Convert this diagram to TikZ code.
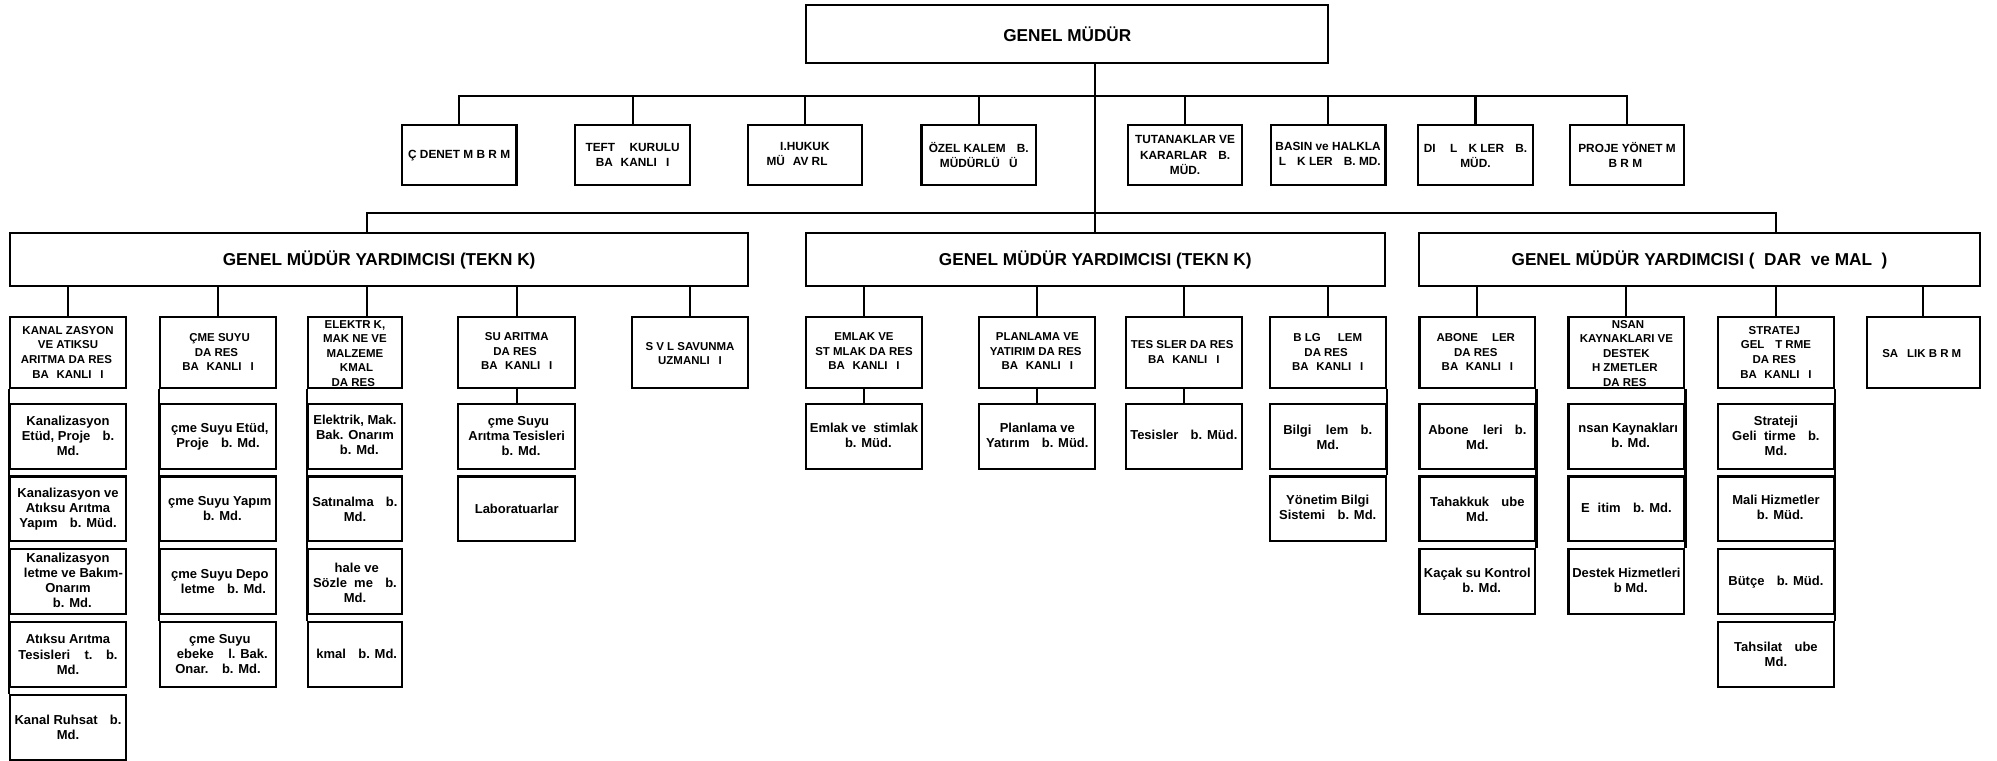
\documentclass[tikz,border=0pt]{standalone}
\usepackage{fontspec}
\setmainfont{Liberation Sans}
\newcommand{\miss}[1]{\phantom{#1}}
\tikzset{
  unitbox/.style={draw, line width=1.7pt, inner sep=0pt, align=center, minimum width=91pt},
  chiefbox/.style={unitbox, minimum height=41.5pt, font=\bfseries\fontsize{13.5}{16}\selectfont},
  staffbox/.style={unitbox, minimum width=90pt, minimum height=46.5pt, font=\bfseries\fontsize{9.3}{12}\selectfont},
  headbox/.style={unitbox, minimum height=56.3pt, font=\bfseries\fontsize{9}{11.4}\selectfont},
  subbox/.style={unitbox, minimum height=51pt, font=\bfseries\fontsize{10.2}{11.8}\selectfont}
}
\begin{document}
\begin{tikzpicture}[x=1pt,y=-1pt,line width=1.7pt]
  \useasboundingbox (0,0) rectangle (1568,597);
  % top
  \node[chiefbox, minimum width=410pt, minimum height=45pt] (gm) at (838,26.7) {GENEL MÜDÜR};
  \coordinate (busS) at (0,75.4);
  \coordinate (busG) at (0,167.5);
  \coordinate (jA) at (288,0);
  % staff units
  \node[staffbox] (s1) at (360.5,121.7) {\miss{İ}Ç DENET\miss{İ}M B\miss{İ}R\miss{İ}M\miss{İ}};
  \node[staffbox] (s2) at (496.7,121.7) {TEFT\miss{İŞ} KURULU\\BA\miss{Ş}KANLI\miss{Ğ}I};
  \node[staffbox] (s3) at (632,121.7) {I.HUKUK\\MÜ\miss{Ş}AV\miss{İ}RL\miss{İĞİ}};
  \node[staffbox] (s4) at (768.5,121.7) {ÖZEL KALEM \miss{Ş}B.\\MÜDÜRLÜ\miss{Ğ}Ü};
  \node[staffbox] (s5) at (930.5,121.7) {TUTANAKLAR VE\\KARARLAR \miss{Ş}B.\\MÜD.};
  \node[staffbox] (s6) at (1042.8,121.7) {BASIN ve HALKLA\\\miss{İ}L\miss{İŞ}K\miss{İ}LER \miss{Ş}B. MD.};
  \node[staffbox] (s7) at (1158.5,121.7) {DI\miss{Ş} \miss{İ}L\miss{İŞ}K\miss{İ}LER \miss{Ş}B.\\MÜD.};
  \node[staffbox] (s8) at (1277.5,121.7) {PROJE YÖNET\miss{İ}M\\B\miss{İ}R\miss{İ}M\miss{İ}};
  % deputies
  \node[chiefbox, minimum width=579.5pt] (gmyA) at (297.7,204) {GENEL MÜDÜR YARDIMCISI (TEKN\miss{İ}K)};
  \node[chiefbox, minimum width=454.6pt] (gmyB) at (860,204) {GENEL MÜDÜR YARDIMCISI (TEKN\miss{İ}K)};
  \node[chiefbox, minimum width=440pt] (gmyC) at (1334.4,204) {GENEL MÜDÜR YARDIMCISI ( \miss{İ}DAR\miss{İ}  ve MAL\miss{İ} )};
  % departments, technical (1)
  \node[headbox] (kaH) at (53.4,276.8) {KANAL\miss{İ}ZASYON\\VE ATIKSU\\ARITMA DA\miss{İ}RES\miss{İ}\\BA\miss{Ş}KANLI\miss{Ğ}I};
  \node[headbox] (icH) at (171.2,276.8) {\miss{İ}ÇME SUYU\\DA\miss{İ}RES\miss{İ}\\BA\miss{Ş}KANLI\miss{Ğ}I};
  \node[headbox, minimum width=73.3pt] (elH) at (278.7,276.8) {ELEKTR\miss{İ}K,\\MAK\miss{İ}NE VE\\MALZEME\\\miss{İ}KMAL\\DA\miss{İ}RES\miss{İ}};
  \node[headbox, minimum width=91.6pt] (suH) at (405.7,276.8) {SU ARITMA\\DA\miss{İ}RES\miss{İ}\\BA\miss{Ş}KANLI\miss{Ğ}I};
  \node[headbox, minimum width=91.6pt] (svH) at (541.8,276.8) {S\miss{İ}V\miss{İ}L SAVUNMA\\UZMANLI\miss{Ğ}I};
  % departments, technical (2)
  \node[headbox] (emH) at (678.4,276.8) {EMLAK VE\\\miss{İ}ST\miss{İ}MLAK DA\miss{İ}RES\miss{İ}\\BA\miss{Ş}KANLI\miss{Ğ}I};
  \node[headbox] (plH) at (814.5,276.8) {PLANLAMA VE\\YATIRIM DA\miss{İ}RES\miss{İ}\\BA\miss{Ş}KANLI\miss{Ğ}I};
  \node[headbox] (teH) at (929.5,276.8) {TES\miss{İ}SLER DA\miss{İ}RES\miss{İ}\\BA\miss{Ş}KANLI\miss{Ğ}I};
  \node[headbox] (biH) at (1042.5,276.8) {B\miss{İ}LG\miss{İ} \miss{İŞ}LEM\\DA\miss{İ}RES\miss{İ}\\BA\miss{Ş}KANLI\miss{Ğ}I};
  % departments, admin and finance
  \node[headbox] (abH) at (1160,276.8) {ABONE \miss{İŞ}LER\miss{İ}\\DA\miss{İ}RES\miss{İ}\\BA\miss{Ş}KANLI\miss{Ğ}I};
  \node[headbox] (inH) at (1277,276.8) {\miss{İ}NSAN\\KAYNAKLARI VE\\DESTEK\\H\miss{İ}ZMETLER\miss{İ}\\DA\miss{İ}RES\miss{İ}};
  \node[headbox] (stH) at (1394.4,276.8) {STRATEJ\miss{İ}\\GEL\miss{İŞ}T\miss{İ}RME\\DA\miss{İ}RES\miss{İ}\\BA\miss{Ş}KANLI\miss{Ğ}I};
  \node[headbox, minimum width=88.5pt] (saH) at (1510.2,276.8) {SA\miss{Ğ}LIK B\miss{İ}R\miss{İ}M\miss{İ}};
  % branch offices
  \node[subbox] (ka1) at (53.4,342.5) {Kanalizasyon\\Etüd, Proje \miss{Ş}b.\\Md.};
  \node[subbox] (ka2) at (53.4,399.6) {Kanalizasyon ve\\Atıksu Arıtma\\Yapım \miss{Ş}b. Müd.};
  \node[subbox] (ka3) at (53.4,456.7) {Kanalizasyon\\\miss{İş}letme ve Bakım-\\Onarım\\\miss{Ş}b. Md.};
  \node[subbox] (ka4) at (53.4,513.8) {Atıksu Arıtma\\Tesisleri \miss{İş}t. \miss{Ş}b.\\Md.};
  \node[subbox] (ka5) at (53.4,570.9) {Kanal Ruhsat \miss{Ş}b.\\Md.};
  \node[subbox] (ic1) at (171.2,342.5) {\miss{İ}çme Suyu Etüd,\\Proje \miss{Ş}b. Md.};
  \node[subbox] (ic2) at (171.2,399.6) {\miss{İ}çme Suyu Yapım\\\miss{Ş}b. Md.};
  \node[subbox] (ic3) at (171.2,456.7) {\miss{İ}çme Suyu Depo\\\miss{İş}letme \miss{Ş}b. Md.};
  \node[subbox] (ic4) at (171.2,513.8) {\miss{İ}çme Suyu\\\miss{Ş}ebeke \miss{İş}l. Bak.\\Onar. \miss{Ş}b. Md.};
  \node[subbox, minimum width=73.3pt] (el1) at (278.7,342.5) {Elektrik, Mak.\\Bak. Onarım\\\miss{Ş}b. Md.};
  \node[subbox, minimum width=73.3pt] (el2) at (278.7,399.6) {Satınalma \miss{Ş}b.\\Md.};
  \node[subbox, minimum width=73.3pt] (el3) at (278.7,456.7) {\miss{İ}hale ve\\Sözle\miss{ş}me \miss{Ş}b.\\Md.};
  \node[subbox, minimum width=73.3pt] (el4) at (278.7,513.8) {\miss{İ}kmal \miss{Ş}b. Md.};
  \node[subbox, minimum width=91.6pt] (su1) at (405.7,342.5) {\miss{İ}çme Suyu\\Arıtma Tesisleri\\\miss{Ş}b. Md.};
  \node[subbox, minimum width=91.6pt] (su2) at (405.7,399.6) {Laboratuarlar};
  \node[subbox] (em1) at (678.4,342.5) {Emlak ve \miss{İ}stimlak\\\miss{Ş}b. Müd.};
  \node[subbox] (pl1) at (814.5,342.5) {Planlama ve\\Yatırım \miss{Ş}b. Müd.};
  \node[subbox] (te1) at (929.5,342.5) {Tesisler \miss{Ş}b. Müd.};
  \node[subbox] (bi1) at (1042.5,342.5) {Bilgi \miss{İş}lem \miss{Ş}b.\\Md.};
  \node[subbox] (bi2) at (1042.5,399.6) {Yönetim Bilgi\\Sistemi \miss{Ş}b. Md.};
  \node[subbox] (ab1) at (1160,342.5) {Abone \miss{İş}leri \miss{Ş}b.\\Md.};
  \node[subbox] (ab2) at (1160,399.6) {Tahakkuk \miss{Ş}ube\\Md.};
  \node[subbox] (ab3) at (1160,456.7) {Kaçak su Kontrol\\\miss{Ş}b. Md.};
  \node[subbox] (in1) at (1277,342.5) {\miss{İ}nsan Kaynakları\\\miss{Ş}b. Md.};
  \node[subbox] (in2) at (1277,399.6) {E\miss{ğ}itim \miss{Ş}b. Md.};
  \node[subbox] (in3) at (1277,456.7) {Destek Hizmetleri\\\miss{Ş}b Md.};
  \node[subbox] (st1) at (1394.4,342.5) {Strateji\\Geli\miss{ş}tirme \miss{Ş}b.\\Md.};
  \node[subbox] (st2) at (1394.4,399.6) {Mali Hizmetler\\\miss{Ş}b. Müd.};
  \node[subbox] (st3) at (1394.4,456.7) {Bütçe \miss{Ş}b. Müd.};
  \node[subbox] (st4) at (1394.4,513.8) {Tahsilat \miss{Ş}ube\\Md.};
  % lines from the top
  \draw (gm.south -| gmyB.north) -- (gmyB.north);
  \draw (s1.north) -- (s1.north |- busS) -- (s8.north |- busS) -- (s8.north);
  \draw (s2.north) -- (s2.north |- busS);
  \draw (s3.north) -- (s3.north |- busS);
  \draw (s4.north) -- (s4.north |- busS);
  \draw (s5.north) -- (s5.north |- busS);
  \draw (s6.north) -- (s6.north |- busS);
  \draw (s7.north) -- (s7.north |- busS);
  \draw (gmyA.north -| jA) -- (jA |- busG) -- (stH.north |- busG) -- (gmyC.north -| stH.north);
  % deputies to departments
  \draw (kaH.north |- gmyA.south) -- (kaH.north);
  \draw (icH.north |- gmyA.south) -- (icH.north);
  \draw (gmyA.south -| jA) -- (elH.north -| jA);
  \draw (suH.north |- gmyA.south) -- (suH.north);
  \draw (svH.north |- gmyA.south) -- (svH.north);
  \draw (emH.north |- gmyB.south) -- (emH.north);
  \draw (plH.north |- gmyB.south) -- (plH.north);
  \draw (teH.north |- gmyB.south) -- (teH.north);
  \draw (biH.north |- gmyB.south) -- (biH.north);
  \draw (abH.north |- gmyC.south) -- (abH.north);
  \draw (inH.north |- gmyC.south) -- (inH.north);
  \draw (stH.north |- gmyC.south) -- (stH.north);
  \draw (saH.north |- gmyC.south) -- (saH.north);
  % departments to branch offices
  \draw (kaH.south west) -- (ka5.north west);
  \draw (icH.south west) -- (ic4.north west);
  \draw (elH.south west) -- (el4.north west);
  \draw (suH.south) -- (su1.north);
  \draw (emH.south) -- (em1.north);
  \draw (plH.south) -- (pl1.north);
  \draw (teH.south) -- (te1.north);
  \draw (biH.south east) -- (bi2.north east);
  \draw (abH.south east) -- (ab3.north east);
  \draw (inH.south east) -- (in3.north east);
  \draw (stH.south east) -- (st4.north east);
\end{tikzpicture}
\end{document}
